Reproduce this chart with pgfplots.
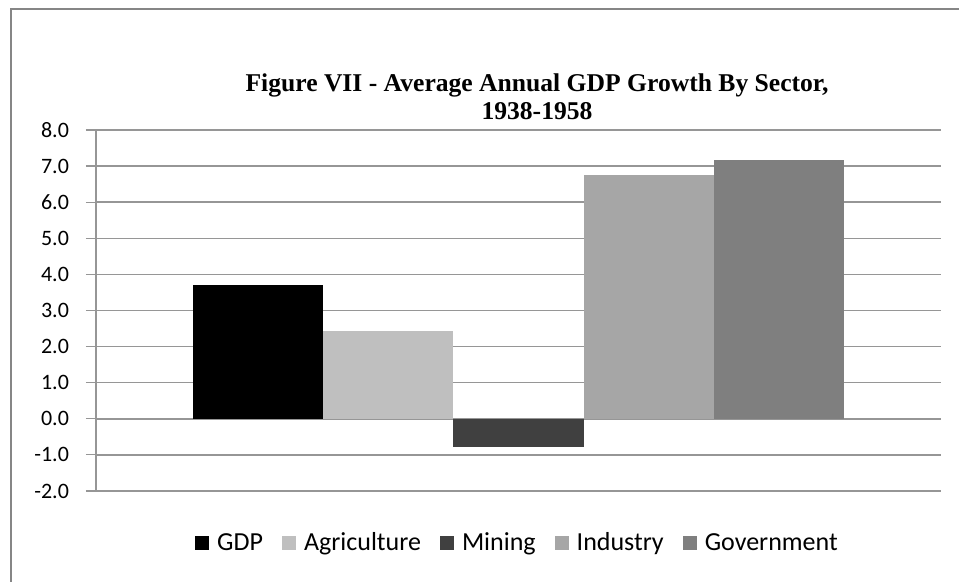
\documentclass[border=0pt]{standalone}
\usepackage{pgfplots}
\pgfplotsset{compat=1.18}
\usepackage{fontspec}
\setmainfont{Carlito}
\newfontfamily\titlefont{Liberation Serif}
\definecolor{gridgray}{RGB}{150,150,150}
\definecolor{framegray}{RGB}{134,134,134}
\definecolor{cGDP}{RGB}{0,0,0}
\definecolor{cAgri}{RGB}{191,191,191}
\definecolor{cMin}{RGB}{64,64,64}
\definecolor{cInd}{RGB}{166,166,166}
\definecolor{cGov}{RGB}{127,127,127}

\begin{document}
\begin{tikzpicture}[x=0.5pt,y=0.5pt]
\useasboundingbox (0,0) rectangle (959,582);
% outer chart frame (only left and top edges are in view)
\draw[framegray, line width=0.6pt] (11,0) -- (11,573) -- (959,573);
\node[font=\titlefont\bfseries\fontsize{12.8pt}{14pt}\selectfont, align=center]
  at (537,485) {Figure VII - Average Annual GDP Growth By Sector,\\1938-1958};
\begin{axis}[
  at={(48pt,45.5pt)}, anchor=south west,
  scale only axis, width=422.5pt, height=180.5pt,
  ybar=0pt, bar width=65.15pt,
  xmin=-1, xmax=1, xtick=\empty,
  ymin=-2, ymax=8, ytick={-2,-1,...,8},
  yticklabel={\pgfmathprintnumber[fixed,fixed zerofill,precision=1]{\tick}},
  /pgf/number format/assume math mode=true,
  axis x line=none, axis y line*=left,
  y axis line style={gridgray, line width=0.6pt, -},
  ymajorgrids, grid style={gridgray, line width=0.75pt},
  tick align=outside, major tick length=5pt,
  ytick style={gridgray, line width=0.6pt},
  tick label style={font=\fontsize{11pt}{12pt}\selectfont},
  yticklabel style={xshift=-5pt},
  legend columns=5,
  legend style={at={(0.5,-0.15)}, anchor=center, draw=none,
    font=\fontsize{13pt}{15pt}\selectfont,
    nodes={text height=1.6ex, text depth=0.5ex},
    /tikz/every odd column/.append style={column sep=2pt},
    /tikz/every even column/.append style={column sep=7.5pt}},
  legend image code/.code={\fill[#1] (0pt,-2.3pt) rectangle (7pt,4.7pt);},
]
\addplot[fill=cGDP, draw=none] coordinates {(0,3.71)};
\addlegendentry{GDP}
\addplot[fill=cAgri, draw=none] coordinates {(0,2.43)};
\addlegendentry{Agriculture}
\addplot[fill=cMin, draw=none] coordinates {(0,-0.77)};
\addlegendentry{Mining}
\addplot[fill=cInd, draw=none] coordinates {(0,6.75)};
\addlegendentry{Industry}
\addplot[fill=cGov, draw=none] coordinates {(0,7.17)};
\addlegendentry{Government}
\end{axis}
\end{tikzpicture}
\end{document}
